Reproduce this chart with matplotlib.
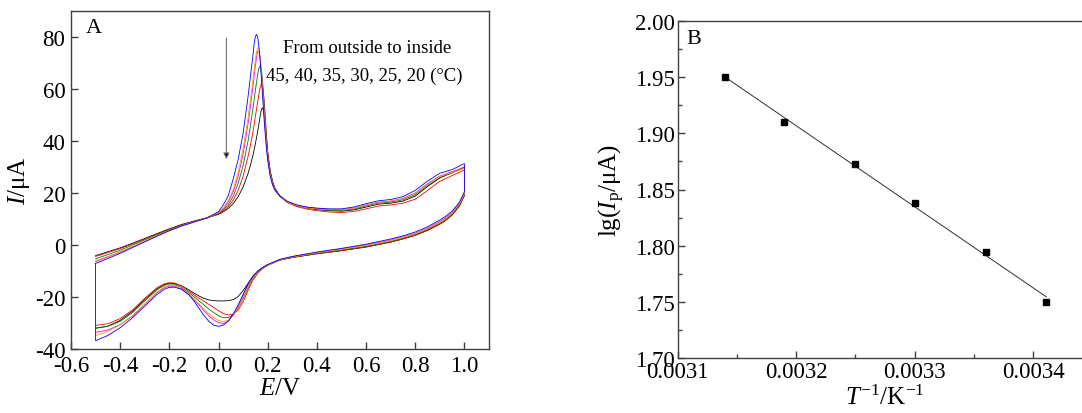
import numpy as np
import matplotlib
matplotlib.use("Agg")
import matplotlib.pyplot as plt
from matplotlib.ticker import MultipleLocator

plt.rcParams['font.family'] = ['Liberation Serif', 'DejaVu Serif']
plt.rcParams['mathtext.fontset'] = 'custom'
plt.rcParams['mathtext.rm'] = 'Liberation Serif'
plt.rcParams['mathtext.it'] = 'Liberation Serif:italic'

# ---------------- Cyclic voltammograms at six temperatures ----------------
temps = [20, 25, 30, 35, 40, 45]
colors = ['#000000', '#ff0000', '#008000', '#ff00ff', '#ff9900', '#0000ff']

# anodic (forward) sweep potentials, V
E_fwd = [-0.50, -0.45, -0.40, -0.35, -0.30, -0.25, -0.20, -0.15, -0.10, -0.05,
         0.00, 0.02, 0.04, 0.06, 0.08, 0.10, 0.12, 0.13,
         0.14, 0.145, 0.15, 0.155, 0.16, 0.165, 0.17, 0.175, 0.18, 0.185, 0.19, 0.195, 0.20,
         0.21, 0.22, 0.23, 0.25, 0.28, 0.32, 0.36, 0.40,
         0.45, 0.50, 0.55, 0.60, 0.65, 0.70, 0.75, 0.80, 0.85, 0.90, 0.95, 1.00]

I_fwd_20 = [-4.1, -2.6, -1.1, 0.7, 2.5, 4.4, 6.2, 7.9, 9.2, 10.4,
            11.8, 12.8, 14.1, 16.0, 18.6, 22.3, 27.5, 30.8,
            34.5, 36.7, 39.0, 41.5, 44.2, 47.0, 50.0, 52.3, 52.8, 50.5, 46.0, 40.5, 35.5,
            28.5, 24.3, 21.7, 18.8, 16.5, 15.0, 14.2, 13.6,
            13.2, 13.0, 13.5, 14.6, 15.7, 16.1, 16.9, 18.8, 22.5, 25.8, 27.8, 30.0]
I_fwd_25 = [-4.4, -2.9, -1.4, 0.4, 2.3, 4.2, 6.0, 7.7, 9.1, 10.3,
            11.9, 13.1, 14.8, 17.3, 21.0, 26.5, 34.0, 38.5,
            43.5, 46.5, 49.5, 52.5, 55.5, 58.5, 61.0, 62.0, 60.5, 56.0, 49.5, 42.5, 36.0,
            28.5, 24.2, 21.6, 18.6, 16.3, 14.7, 13.8, 13.2,
            12.7, 12.5, 12.9, 13.9, 15.0, 15.4, 16.1, 17.6, 21.0, 24.5, 26.7, 28.9]
I_fwd_30 = [-5.3, -3.7, -2.0, 0.0, 2.0, 4.0, 5.9, 7.6, 9.0, 10.3,
            12.1, 13.5, 15.6, 18.8, 23.8, 30.5, 40.0, 46.0,
            52.5, 56.0, 59.5, 63.0, 66.0, 68.3, 69.0, 67.0, 62.0, 55.5, 48.0, 41.0, 35.0,
            28.0, 24.0, 21.5, 18.8, 16.6, 15.1, 14.3, 13.8,
            13.4, 13.3, 13.8, 15.0, 16.1, 16.5, 17.4, 19.4, 22.9, 26.0, 27.8, 29.6]
I_fwd_35 = [-6.4, -4.6, -2.8, -0.7, 1.4, 3.5, 5.6, 7.4, 8.9, 10.3,
            12.3, 14.0, 16.6, 20.5, 26.5, 35.0, 46.5, 53.5,
            61.0, 65.0, 69.0, 72.5, 74.5, 74.5, 71.5, 66.0, 59.5, 52.5, 45.5, 39.5, 34.0,
            27.5, 23.5, 21.2, 18.7, 16.6, 15.2, 14.4, 14.0,
            13.7, 13.6, 14.2, 15.4, 16.5, 16.9, 17.9, 20.0, 23.6, 26.5, 28.2, 29.9]
I_fwd_40 = [-6.0, -4.4, -2.6, -0.6, 1.5, 3.6, 5.6, 7.4, 8.9, 10.3,
            12.5, 14.3, 17.2, 21.5, 28.0, 37.0, 49.0, 56.0,
            63.5, 67.5, 71.5, 74.5, 76.0, 75.0, 71.0, 65.0, 58.0, 51.0, 44.0, 38.0, 33.0,
            27.0, 23.2, 21.0, 18.6, 16.5, 15.1, 14.3, 13.9,
            13.6, 13.5, 14.1, 15.3, 16.4, 16.8, 17.8, 19.8, 23.3, 26.3, 27.9, 29.6]
I_fwd_45 = [-7.1, -5.2, -3.2, -1.0, 1.2, 3.4, 5.5, 7.3, 8.8, 10.3,
            12.8, 15.5, 19.0, 25.5, 33.0, 43.0, 57.0, 65.0,
            73.0, 77.5, 80.3, 81.0, 79.5, 75.5, 70.0, 63.0, 56.0, 49.0, 42.5, 37.0, 32.5,
            26.5, 23.0, 21.0, 18.8, 16.8, 15.4, 14.6, 14.2,
            13.9, 13.9, 14.6, 15.9, 17.0, 17.5, 18.6, 21.0, 24.6, 27.6, 29.0, 31.3]

# cathodic (reverse) sweep potentials, V
E_rev = [1.00, 0.98, 0.95, 0.92, 0.90, 0.85, 0.80, 0.75, 0.70, 0.60, 0.50, 0.40,
         0.30, 0.25, 0.20, 0.18, 0.16, 0.14, 0.12, 0.10, 0.08, 0.06, 0.04, 0.02,
         0.00, -0.02, -0.04, -0.06, -0.08, -0.10, -0.12, -0.15, -0.18, -0.20,
         -0.22, -0.25, -0.30, -0.35, -0.40, -0.45, -0.50]

I_rev_20 = [19.0, 15.0, 11.5, 9.2, 8.0, 5.6, 3.7, 2.3, 1.1, -0.8, -2.2, -3.4,
            -4.8, -5.8, -7.6, -8.6, -10.0, -12.0, -14.8, -17.5, -19.8, -21.0, -21.4, -21.5,
            -21.5, -21.4, -21.1, -20.5, -19.6, -18.5, -17.3, -15.7, -14.8, -14.7,
            -15.2, -16.8, -21.0, -25.5, -29.0, -31.2, -32.0]
I_rev_25 = [19.3, 15.2, 11.6, 9.3, 8.1, 5.7, 3.8, 2.4, 1.2, -0.7, -2.1, -3.3,
            -4.8, -5.8, -7.8, -9.0, -10.8, -13.5, -17.5, -21.8, -25.0, -26.6, -26.9, -26.4,
            -25.3, -24.0, -22.8, -21.6, -20.4, -19.2, -17.8, -15.8, -14.6, -14.5,
            -14.9, -16.4, -20.5, -25.0, -28.3, -30.3, -30.9]
I_rev_30 = [19.5, 15.5, 11.9, 9.6, 8.4, 6.0, 4.0, 2.6, 1.4, -0.5, -1.9, -3.2,
            -4.7, -5.8, -7.8, -9.0, -10.6, -13.0, -16.5, -20.5, -24.2, -26.8, -27.9, -28.0,
            -27.2, -26.0, -24.6, -23.0, -21.4, -19.9, -18.4, -16.4, -15.1, -15.0,
            -15.5, -17.2, -21.5, -26.0, -29.4, -31.3, -32.0]
I_rev_35 = [20.0, 16.0, 12.5, 10.2, 9.0, 6.5, 4.5, 3.1, 1.9, 0.0, -1.5, -2.9,
            -4.5, -5.6, -7.6, -8.8, -10.2, -12.4, -15.6, -19.6, -23.6, -27.0, -29.3, -30.2,
            -29.9, -28.8, -27.2, -25.2, -23.0, -21.0, -19.2, -17.1, -15.9, -15.8,
            -16.4, -18.3, -22.9, -27.3, -30.6, -32.7, -33.6]
I_rev_40 = [19.8, 15.8, 12.2, 9.9, 8.7, 6.3, 4.3, 2.9, 1.7, -0.2, -1.6, -3.0,
            -4.6, -5.7, -7.7, -8.9, -10.4, -12.7, -16.0, -20.0, -24.0, -27.0, -28.9, -29.5,
            -29.0, -27.9, -26.4, -24.6, -22.6, -20.7, -19.0, -16.9, -15.6, -15.5,
            -16.1, -18.0, -22.6, -27.2, -30.7, -33.2, -34.8]
I_rev_45 = [20.5, 16.5, 13.0, 10.8, 9.6, 7.0, 5.0, 3.5, 2.3, 0.3, -1.3, -2.7,
            -4.4, -5.5, -7.5, -8.6, -10.0, -12.0, -15.0, -19.0, -23.0, -26.5, -29.2, -30.8,
            -31.3, -30.8, -29.3, -27.0, -24.3, -21.5, -19.2, -17.0, -16.2, -16.3,
            -17.0, -19.0, -23.5, -28.0, -31.8, -34.8, -36.8]

I_fwd = [I_fwd_20, I_fwd_25, I_fwd_30, I_fwd_35, I_fwd_40, I_fwd_45]
I_rev = [I_rev_20, I_rev_25, I_rev_30, I_rev_35, I_rev_40, I_rev_45]

# ---------------- Arrhenius-type plot ----------------
inv_T = [0.003140, 0.003190, 0.003250, 0.003300, 0.003360, 0.003411]
lg_Ip = [1.950, 1.910, 1.873, 1.838, 1.794, 1.750]

spine_col = '#404040'
tick_fs = 16.5
label_fs = 18

fig = plt.figure(figsize=(10.82, 4.14), dpi=100)

# ---------- panel A ----------
axA = fig.add_axes([71 / 1082, 64 / 414, 418 / 1082, 338 / 414])
for T, col, yf, yr in zip(temps, colors, I_fwd, I_rev):
    E = list(E_fwd) + list(E_rev)
    I = list(yf) + list(yr)
    if T == temps[-1]:
        # the last scan returns to its starting potential
        E = E + [E_fwd[0]]
        I = I + [yf[0]]
    axA.plot(E, I, color=col, lw=0.6, solid_joinstyle='round')

axA.set_xlim(-0.6, 1.1)
axA.set_ylim(-40, 90)
axA.set_xticks(np.arange(-0.6, 1.01, 0.2))
axA.set_xticklabels(['-0.6', '-0.4', '-0.2', '0.0', '0.2', '0.4', '0.6', '0.8', '1.0'])
axA.set_yticks([-40, -20, 0, 20, 40, 60, 80])
axA.set_yticklabels(['-40', '-20', '0', '20', '40', '60', '80'])
axA.tick_params(direction='in', length=5, width=1, color=spine_col,
                labelsize=tick_fs, pad=4)
for s in axA.spines.values():
    s.set_color(spine_col)
    s.set_linewidth(1)
axA.set_xlabel(r'$E$/V', fontsize=label_fs, labelpad=1)
axA.set_ylabel(r'$I$/μA', fontsize=label_fs, labelpad=2)

axA.text(-0.54, 83.7, 'A', fontsize=16, ha='left', va='center')
axA.text(0.605, 76, 'From outside to inside', fontsize=13.5, ha='center', va='center')
axA.text(0.594, 65.2, '45, 40, 35, 30, 25, 20 (°C)', fontsize=13.5,
         ha='center', va='center')
axA.annotate('', xy=(0.032, 33), xytext=(0.032, 79.6),
             arrowprops=dict(arrowstyle='-|>', color='#707070', lw=0.8,
                             mutation_scale=9, fc='black', ec='#707070',
                             shrinkA=0, shrinkB=0))

# ---------- panel B ----------
axB = fig.add_axes([677.7 / 1082, 55 / 414, 414.8 / 1082, 337 / 414])
coef = np.polyfit(inv_T, lg_Ip, 1)
xfit = np.array([inv_T[0], inv_T[-1]])
axB.plot(xfit, np.polyval(coef, xfit), color='#303030', lw=0.7)
axB.plot(inv_T, lg_Ip, 's', color='black', ms=4.6)

axB.set_xlim(0.0031, 0.00345)
axB.set_ylim(1.70, 2.00)
axB.set_xticks([0.0031, 0.0032, 0.0033, 0.0034])
axB.set_xticklabels(['0.0031', '0.0032', '0.0033', '0.0034'])
axB.set_yticks([1.70, 1.75, 1.80, 1.85, 1.90, 1.95, 2.00])
axB.set_yticklabels(['1.70', '1.75', '1.80', '1.85', '1.90', '1.95', '2.00'])
axB.xaxis.set_minor_locator(MultipleLocator(0.00005))
axB.yaxis.set_minor_locator(MultipleLocator(0.025))
axB.tick_params(which='major', direction='in', length=5, width=1, color=spine_col,
                labelsize=tick_fs, pad=2)
axB.tick_params(which='minor', direction='in', length=3, width=1, color=spine_col)
for s in axB.spines.values():
    s.set_color(spine_col)
    s.set_linewidth(1)
axB.set_xlabel(r'$T^{-1}$/K$^{-1}$', fontsize=label_fs, labelpad=2)
axB.set_ylabel(r'lg($I_{\mathrm{p}}$/μA)', fontsize=label_fs, labelpad=6)
axB.text(0.022, 0.949, 'B', transform=axB.transAxes, fontsize=16,
         ha='left', va='center')

fig.savefig('out.png', dpi=100)
